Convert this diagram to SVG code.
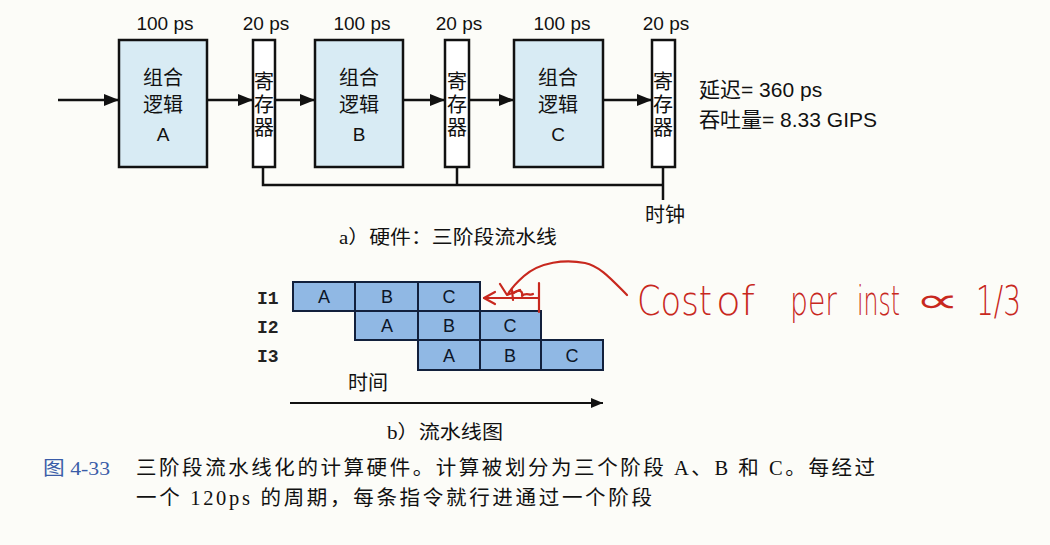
<svg xmlns="http://www.w3.org/2000/svg" width="1050" height="545" viewBox="0 0 1050 545">
<defs>
<style>
.lbl{font-family:"Liberation Sans","Noto Sans CJK SC",sans-serif;font-size:19px;fill:#111;text-anchor:middle}
.cjk{font-family:"Noto Sans CJK SC","Liberation Sans",sans-serif;font-size:20px;fill:#111;text-anchor:middle}
.met{font-family:"Liberation Sans","Noto Sans CJK SC",sans-serif;font-size:21px;fill:#111}
.reg{font-family:"Noto Sans CJK SC",sans-serif;font-size:20px;fill:#111;text-anchor:middle}
.box{fill:#d8ebf4;stroke:#111;stroke-width:2.5}
.rbox{fill:#fff;stroke:#111;stroke-width:2.5}
.wire{stroke:#111;stroke-width:2.5;fill:none}
.cell{fill:#90b8e4;stroke:#12203c;stroke-width:2}
.cl{font-family:"Liberation Sans",sans-serif;font-size:18px;fill:#0c1628;text-anchor:middle}
.ilbl{font-family:"Liberation Mono",monospace;font-size:18px;font-weight:bold;fill:#222}
.cap{font-family:"Liberation Serif","Noto Sans CJK SC",serif;font-size:19px;fill:#111}
.cap2{font-family:"Liberation Serif","Noto Sans CJK SC",serif;font-size:20.5px;fill:#111}
.red{stroke:#c8281e;stroke-width:2.2;fill:none;stroke-linecap:round;stroke-linejoin:round}
.hw{fill:#c8281e;font-family:"DejaVu Sans","Liberation Sans",sans-serif;font-size:40px;font-weight:200}
</style>
<marker id="ah" markerWidth="15" markerHeight="12" refX="15" refY="6" orient="auto" markerUnits="userSpaceOnUse"><path d="M0,0 L15,6 L0,12 z" fill="#111"/></marker>
<marker id="ah2" markerWidth="12" markerHeight="10" refX="12" refY="5" orient="auto" markerUnits="userSpaceOnUse"><path d="M0,0 L12,5 L0,10 z" fill="#111"/></marker>
</defs>
<rect x="0" y="0" width="1050" height="545" fill="#fcfcf8"/>

<g id="connectors">
<line class="wire" x1="58" y1="100" x2="119" y2="100" marker-end="url(#ah)"/>
<line class="wire" x1="207" y1="100" x2="253" y2="100" marker-end="url(#ah)"/>
<line class="wire" x1="275" y1="100" x2="315" y2="100" marker-end="url(#ah)"/>
<line class="wire" x1="403" y1="100" x2="445" y2="100" marker-end="url(#ah)"/>
<line class="wire" x1="469" y1="100" x2="514" y2="100" marker-end="url(#ah)"/>
<line class="wire" x1="603" y1="100" x2="652" y2="100" marker-end="url(#ah)"/>
<polyline class="wire" points="263,167 263,185 663,185"/>
<line class="wire" x1="457" y1="167" x2="457" y2="185"/>
<line class="wire" x1="663" y1="167" x2="663" y2="200"/>
<line class="wire" x1="290" y1="403" x2="603" y2="403" style="stroke-width:2" marker-end="url(#ah2)"/>
</g>

<g id="labels-top">
<text class="lbl" x="165" y="30">100 ps</text>
<text class="lbl" x="266" y="30">20 ps</text>
<text class="lbl" x="362" y="30">100 ps</text>
<text class="lbl" x="459" y="30">20 ps</text>
<text class="lbl" x="562" y="30">100 ps</text>
<text class="lbl" x="666" y="30">20 ps</text>
</g>

<g id="logicA"><rect class="box" x="119" y="40" width="88" height="127"/>
<text class="cjk" x="163" y="85">组合</text><text class="cjk" x="163" y="112">逻辑</text><text class="lbl" x="163" y="141">A</text></g>
<g id="logicB"><rect class="box" x="315" y="40" width="88" height="127"/>
<text class="cjk" x="359" y="85">组合</text><text class="cjk" x="359" y="112">逻辑</text><text class="lbl" x="359" y="141">B</text></g>
<g id="logicC"><rect class="box" x="514" y="40" width="89" height="127"/>
<text class="cjk" x="558" y="85">组合</text><text class="cjk" x="558" y="112">逻辑</text><text class="lbl" x="558" y="141">C</text></g>

<g id="reg1"><rect class="rbox" x="253" y="40" width="22" height="127"/>
<text class="reg" x="264" y="89">寄</text><text class="reg" x="264" y="112">存</text><text class="reg" x="264" y="135">器</text></g>
<g id="reg2"><rect class="rbox" x="445" y="40" width="24" height="127"/>
<text class="reg" x="457" y="89">寄</text><text class="reg" x="457" y="112">存</text><text class="reg" x="457" y="135">器</text></g>
<g id="reg3"><rect class="rbox" x="652" y="40" width="23" height="127"/>
<text class="reg" x="663" y="89">寄</text><text class="reg" x="663" y="112">存</text><text class="reg" x="663" y="135">器</text></g>

<g id="clock"><text class="cjk" x="665" y="222">时钟</text></g>
<g id="metrics">
<text class="met" x="699" y="97">延迟= 360 ps</text>
<text class="met" x="699" y="127">吞吐量= 8.33 GIPS</text>
</g>

<g id="caption-a"><text class="cap" x="339" y="244" textLength="218" lengthAdjust="spacingAndGlyphs">a）硬件：三阶段流水线</text></g>

<g id="pipeline">
<rect class="cell" x="293" y="282" width="62" height="29"/>
<rect class="cell" x="355" y="282" width="63" height="29"/>
<rect class="cell" x="418" y="282" width="62" height="29"/>
<rect class="cell" x="355" y="311" width="63" height="29"/>
<rect class="cell" x="418" y="311" width="62" height="29"/>
<rect class="cell" x="480" y="311" width="61" height="29"/>
<rect class="cell" x="418" y="340" width="62" height="30"/>
<rect class="cell" x="480" y="340" width="61" height="30"/>
<rect class="cell" x="541" y="340" width="62" height="30"/>
<text class="cl" x="324" y="303">A</text><text class="cl" x="387" y="303">B</text><text class="cl" x="449" y="303">C</text>
<text class="cl" x="387" y="332">A</text><text class="cl" x="449" y="332">B</text><text class="cl" x="510" y="332">C</text>
<text class="cl" x="449" y="362">A</text><text class="cl" x="510" y="362">B</text><text class="cl" x="572" y="362">C</text>
<text class="ilbl" x="257" y="304">I1</text>
<text class="ilbl" x="257" y="333">I2</text>
<text class="ilbl" x="257" y="362">I3</text>
<text class="cjk" x="368" y="390">时间</text>
<text class="cap" x="387" y="439" textLength="116" lengthAdjust="spacingAndGlyphs">b）流水线图</text>
</g>

<g id="annotation">
<path class="red" d="M627,295 C612,280 600,266 585,263 C565,259 540,262 524,276 C516,283 511,289 508,294"/>
<path class="red" d="M500,284 L507,295 L520,290"/>
<path class="red" d="M484,298 L538,298"/>
<path class="red" d="M495,292 L484,298 L495,304"/>
<path class="red" d="M539,283 L539,312"/>
<path class="red" d="M512,290 L513,300 M514,293 C520,288 523,292 522,296 C526,292 530,296 533,294"/>
<text class="hw" x="637" y="315" textLength="75" lengthAdjust="spacingAndGlyphs">Cost</text>
<text class="hw" x="716" y="315" textLength="39" lengthAdjust="spacingAndGlyphs">of</text>
<text class="hw" x="790" y="315" textLength="47" lengthAdjust="spacingAndGlyphs">per</text>
<text class="hw" x="857" y="315" textLength="43" lengthAdjust="spacingAndGlyphs">inst</text>
<text class="hw" x="915" y="312" style="font-weight:normal;font-size:34px;font-family:'Liberation Sans',sans-serif" textLength="44" lengthAdjust="spacingAndGlyphs">∝</text>
<text class="hw" x="976" y="315" textLength="45" lengthAdjust="spacingAndGlyphs">1/3</text>
</g>

<g id="figure-caption">
<text x="43" y="475" style="font-family:'Liberation Serif','Noto Sans CJK SC',serif;font-size:19px;fill:#3a5ca8" textLength="67" lengthAdjust="spacingAndGlyphs">图 4-33</text>
<text class="cap2" x="136" y="475" textLength="739" lengthAdjust="spacing">三阶段流水线化的计算硬件。计算被划分为三个阶段 A、B 和 C。每经过</text>
<text class="cap2" x="136" y="505" textLength="516" lengthAdjust="spacing">一个 120ps 的周期，每条指令就行进通过一个阶段</text>
</g>
</svg>
